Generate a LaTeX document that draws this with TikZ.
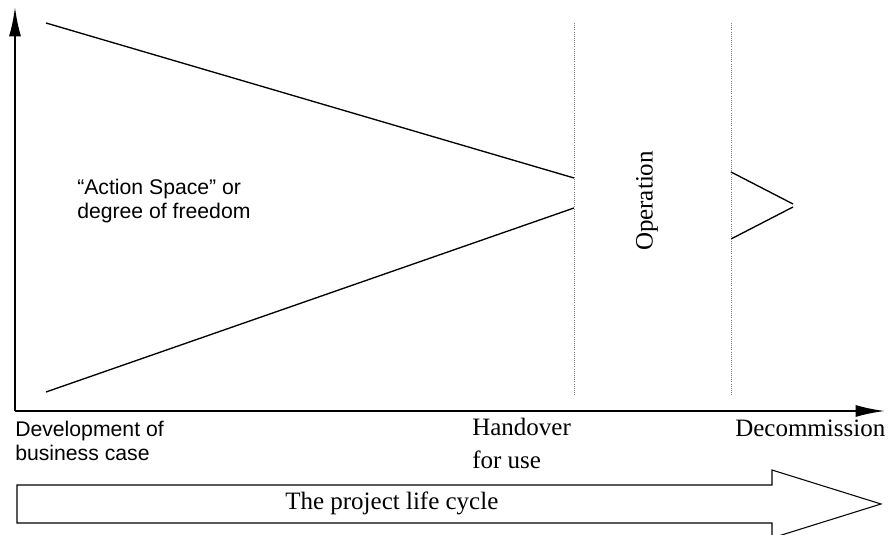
\documentclass[tikz,border=0pt]{standalone}
\usepackage{fontspec}
\setmainfont{Liberation Serif}
\newfontfamily\arialfont{Liberation Sans}
\usepackage{tikz}
\usetikzlibrary{arrows.meta,calc,positioning}

\begin{document}
\begin{tikzpicture}[x=0.75pt,y=0.75pt,
    axis/.style={line width=1.6pt,-{Latex[length=22pt,width=9pt]}},
    wedge/.style={line width=1pt},
    phase/.style={gray,line width=0.6pt,densely dotted},
    serif/.style={inner sep=0pt,font=\fontsize{18.75}{24.5}\selectfont},
    sans/.style={inner sep=0pt,align=left,font=\arialfont\fontsize{15.9}{18}\selectfont}]
  \useasboundingbox (0,0) rectangle (892,535);
  \def\hand{574}
  \def\decom{731}
  % axes
  \coordinate (O) at (15,124);
  \coordinate (ytip) at (15,528);
  \coordinate (xtip) at (885,124);
  \draw[axis] (O) -- (ytip);
  \draw[axis] (O) -- (xtip);
  % action space wedge
  \coordinate (up0) at (46,512);
  \coordinate (up1) at (\hand,357);
  \coordinate (lo0) at (46,143);
  \coordinate (lo1) at (\hand,327);
  \draw[wedge] (up0) -- (up1);
  \draw[wedge] (lo0) -- (lo1);
  % phase borders
  \coordinate (h0) at (\hand,512);
  \coordinate (h1) at (\hand,140);
  \coordinate (d0) at (\decom,512);
  \coordinate (d1) at (\decom,140);
  \draw[phase] (h0) -- (h1);
  \draw[phase] (d0) -- (d1);
  % after decommission
  \coordinate (dup) at (\decom,363);
  \coordinate (dlo) at (\decom,296);
  \coordinate (dtipa) at (793,331);
  \coordinate (dtipb) at (793,328);
  \draw[wedge] (dup) -- (dtipa);
  \draw[wedge] (dlo) -- (dtipb);
  % labels
  \node[serif,rotate=90] (operation) at (647,334) {Operation};
  \node[sans,anchor=west] (action) at (77,334) {“Action Space” or\\degree of freedom};
  \node[sans,anchor=north west] (develop) at (15,114) {Development of\\business case};
  \node[serif,align=left,anchor=north west] (handover) at (472,117) {Handover\\for use};
  \node[serif,anchor=base west] (decommission) at (735,98) {Decommission};
  % life cycle arrow
  \draw[line width=0.8pt] (17,12) -- (17,50) -- (772,50) -- (772,65) -- (881,31)
    -- (772,-3) -- (772,12) -- cycle;
  \node[serif,anchor=west] (lifecycle) at (285,32) {The project life cycle};
\end{tikzpicture}
\end{document}
